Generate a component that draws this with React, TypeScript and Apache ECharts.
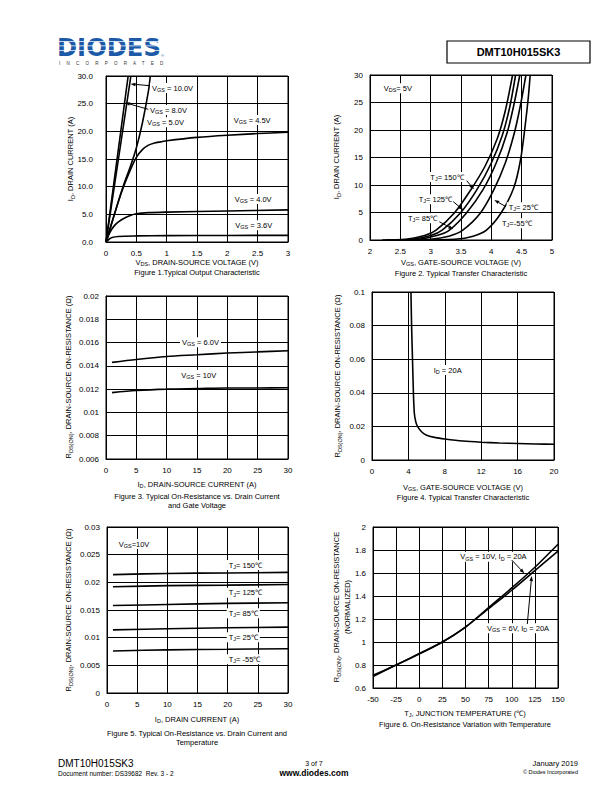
import React, { useEffect, useRef } from "react";
import * as echarts from "echarts";

const FONT = '"Liberation Sans", Arial, Helvetica, sans-serif';

// ---------- Figure 1: Typical Output Characteristic (VDS V, ID A)
const fig1Vgs10 = [[0, 0], [0.365, 30]];
const fig1Vgs8 = [[0, 0], [0.41, 30]];
const fig1Vgs5 = [[0, 0], [0.1, 3.6], [0.2, 7.2], [0.3, 10.6], [0.4, 13.6], [0.5, 17], [0.6, 21.5], [0.7, 27.3], [0.73, 30]];
const fig1Vgs45 = [[0, 0], [0.1, 3.6], [0.2, 7.2], [0.3, 10.3], [0.4, 13], [0.5, 15.3], [0.6, 16.7], [0.7, 17.5], [0.8, 17.9], [0.9, 18.1], [1.0, 18.3], [1.5, 18.9], [2, 19.3], [2.5, 19.6], [3, 19.85]];
const fig1Vgs40 = [[0, 0], [0.05, 1.4], [0.1, 2.4], [0.15, 3.1], [0.2, 3.6], [0.3, 4.3], [0.4, 4.8], [0.5, 5.1], [0.7, 5.3], [1, 5.4], [2, 5.6], [3, 5.8]];
const fig1Vgs36 = [[0, 0], [0.05, 0.5], [0.1, 0.8], [0.2, 1.0], [0.5, 1.1], [1, 1.15], [2, 1.18], [3, 1.2]];

// ---------- Figure 2: Typical Transfer Characteristic (VGS V, ID A)
const fig2Tj150 = [[2.2, 0], [2.6, 0.15], [2.9, 0.8], [3.09, 1.8], [3.39, 4.9], [3.66, 9.1], [3.9, 13.5], [4.1, 18.5], [4.23, 23.5], [4.35, 30]];
const fig2Tj125 = [[2.25, 0], [2.7, 0.15], [3.0, 0.8], [3.19, 1.8], [3.49, 4.9], [3.76, 9.1], [4.0, 14], [4.18, 19], [4.3, 24], [4.4, 30]];
const fig2Tj85 = [[2.3, 0], [2.8, 0.15], [3.1, 0.8], [3.31, 1.8], [3.59, 4.9], [3.86, 9.1], [4.08, 14], [4.26, 19.5], [4.37, 24.5], [4.47, 30]];
const fig2Tj25 = [[2.5, 0], [3.0, 0.15], [3.3, 0.7], [3.53, 1.8], [3.82, 4.9], [4.04, 9.1], [4.23, 14], [4.38, 19.5], [4.48, 24.5], [4.57, 30]];
const fig2TjM55 = [[2.8, 0], [3.4, 0.15], [3.7, 0.7], [3.92, 1.8], [4.16, 4.9], [4.37, 9.5], [4.48, 14.5], [4.56, 21], [4.61, 26], [4.64, 30]];

// ---------- Figure 3: RDS(ON) vs ID and VGS
const fig3Vgs6 = [[1, 0.0143], [5, 0.01455], [10, 0.0148], [15, 0.01495], [20, 0.0151], [25, 0.0152], [30, 0.0153]];
const fig3Vgs10 = [[1, 0.0117], [5, 0.01188], [10, 0.012], [15, 0.01205], [20, 0.0121], [25, 0.0121], [30, 0.01212]];

// ---------- Figure 4: RDS(ON) vs VGS at ID = 20A
const fig4Id20 = [[4.28, 0.1], [4.35, 0.08], [4.45, 0.06], [4.55, 0.04], [4.65, 0.028], [4.8, 0.023], [5, 0.02], [5.5, 0.0165], [6, 0.0148], [7, 0.0133], [8, 0.0125], [10, 0.0113], [12, 0.0106], [14, 0.0101], [16, 0.0098], [18, 0.0095], [20, 0.0094]];

// ---------- Figure 5: RDS(ON) vs ID and temperature
const fig5Tj150 = [[1, 0.0214], [10, 0.0216], [20, 0.0217], [30, 0.0218]];
const fig5Tj125 = [[1, 0.0192], [10, 0.0194], [20, 0.0195], [30, 0.0196]];
const fig5Tj85 = [[1, 0.0158], [10, 0.016], [20, 0.0162], [30, 0.0163]];
const fig5Tj25 = [[1, 0.0114], [10, 0.0116], [20, 0.0118], [30, 0.0119]];
const fig5TjM55 = [[1, 0.0076], [10, 0.0078], [20, 0.0079], [30, 0.008]];

// ---------- Figure 6: normalized RDS(ON) vs TJ
const fig6Vgs10 = [[-50, 0.70], [-25, 0.80], [0, 0.895], [25, 1.0], [50, 1.13], [75, 1.30], [100, 1.47], [125, 1.65], [150, 1.85]];
const fig6Vgs6 = [[-50, 0.71], [-25, 0.80], [0, 0.90], [25, 1.0], [50, 1.13], [75, 1.29], [100, 1.45], [125, 1.62], [150, 1.79]];

// ---------- texts
const titlePart = "DMT10H015SK3";
const captions = [
  "Figure 1.Typical Output Characteristic",
  "Figure 2. Typical Transfer Characteristic",
  "Figure 3. Typical On-Resistance vs. Drain Current\nand Gate Voltage",
  "Figure 4. Typical Transfer Characteristic",
  "Figure 5. Typical On-Resistance vs. Drain Current and\nTemperature",
  "Figure 6. On-Resistance Variation with Temperature",
];
const xNames = [
  "V{s|DS}, DRAIN-SOURCE VOLTAGE (V)",
  "V{s|GS}, GATE-SOURCE VOLTAGE (V)",
  "I{s|D}, DRAIN-SOURCE CURRENT (A)",
  "V{s|GS}, GATE-SOURCE VOLTAGE (V)",
  "I{s|D}, DRAIN CURRENT (A)",
  "T{s|J}, JUNCTION TEMPERATURE (℃)",
];
const yNames = [
  "I{s|D}, DRAIN CURRENT (A)",
  "I{s|D}, DRAIN CURRENT (A)",
  "R{s|DS(ON)}, DRAIN-SOURCE ON-RESISTANCE (Ω)",
  "R{s|DS(ON)}, DRAIN-SOURCE ON-RESISTANCE (Ω)",
  "R{s|DS(ON)}, DRAIN-SOURCE ON-RESISTANCE (Ω)",
  "R{s|DS(ON)}, DRAIN-SOURCE ON-RESISTANCE\n(NORMALIZED)",
];

// axis ranges [xMin, xMax, xInt, yMin, yMax, yInt]
const ranges = [
  [0, 3, 0.5, 0, 30, 5],
  [2, 5, 0.5, 0, 30, 5],
  [0, 30, 5, 0.006, 0.02, 0.002],
  [0, 20, 4, 0, 0.1, 0.02],
  [0, 30, 5, 0, 0.03, 0.005],
  [-50, 150, 25, 0.6, 2, 0.2],
];

// layout (page pixels)
const grids = [
  { left: 106, top: 76, width: 182, height: 166 },
  { left: 370, top: 75, width: 182, height: 165 },
  { left: 106, top: 296, width: 182, height: 163 },
  { left: 372, top: 292, width: 182, height: 168 },
  { left: 107, top: 527, width: 181, height: 166 },
  { left: 373, top: 527, width: 185, height: 161 },
];
const yLabelMargin = [13, 7, 7, 7, 7, 7];
const xNamePos = [[197, 262], [461, 262], [197, 484], [463, 487], [197, 719], [465, 713]];
const captionPos = [[197, 272], [461, 273], [197, 501], [463, 497], [197, 738], [465, 724]];
const yNamePos = [[70, 159], [336, 157], [68, 377], [337, 376], [68, 610], [342, 607]];

const SUB = { fontSize: 5.5, verticalAlign: "bottom", lineHeight: 10, fontFamily: FONT, fill: "#000" };

function fmt(v: number) {
  return String(parseFloat(v.toFixed(4)));
}
function fmt1(v: number) {
  return v.toFixed(1);
}

function txt(x: number, y: number, text: string, o: any = {}) {
  return {
    type: "text",
    x,
    y,
    z: 100,
    rotation: o.rotation || 0,
    scaleX: o.scaleX || 1,
    style: {
      text,
      fontSize: o.fontSize || 7.5,
      fontFamily: o.fontFamily || FONT,
      fontWeight: o.fontWeight || "normal",
      fill: o.fill || "#000",
      align: o.align || "left",
      verticalAlign: o.verticalAlign || "middle",
      lineHeight: o.lineHeight || 10,
      backgroundColor: o.bg,
      padding: o.bg ? [0, 2, 0, 2] : 0,
      rich: { s: SUB },
    },
  };
}

function arrow(x1: number, y1: number, x2: number, y2: number) {
  const a = Math.atan2(y2 - y1, x2 - x1);
  const L = 5;
  const W = 1.8;
  const bx = x2 - L * Math.cos(a);
  const by = y2 - L * Math.sin(a);
  return [
    { type: "line", z: 100, shape: { x1, y1, x2: bx, y2: by }, style: { stroke: "#000", lineWidth: 1 } },
    {
      type: "polygon",
      z: 100,
      shape: { points: [[x2, y2], [bx + W * Math.sin(a), by - W * Math.cos(a)], [bx - W * Math.sin(a), by + W * Math.cos(a)]] },
      style: { fill: "#000" },
    },
  ];
}

export default function App() {
  const ref = useRef<HTMLDivElement>(null);
  useEffect(() => {
    if (!ref.current) return;
    const chart = echarts.init(ref.current, null, { renderer: "svg" });

    const xAxis = ranges.map((r, i) => ({
      gridIndex: i,
      type: "value",
      min: r[0],
      max: r[1],
      interval: r[2],
      axisLine: { show: true, onZero: false, lineStyle: { color: "#000", width: 1 } },
      axisTick: { show: false },
      splitLine: { show: true, lineStyle: { color: "#000", width: 1 } },
      axisLabel: { color: "#000", fontSize: 8, fontFamily: FONT, margin: 7, formatter: fmt, showMinLabel: true, showMaxLabel: true },
    }));
    const yAxis = ranges.map((r, i) => ({
      gridIndex: i,
      type: "value",
      min: r[3],
      max: r[4],
      interval: r[5],
      axisLine: { show: true, onZero: false, lineStyle: { color: "#000", width: 1 } },
      axisTick: { show: false },
      splitLine: { show: true, lineStyle: { color: "#000", width: 1 } },
      axisLabel: {
        color: "#000",
        fontSize: 8,
        fontFamily: FONT,
        margin: yLabelMargin[i],
        formatter: i === 0 ? fmt1 : fmt,
        showMinLabel: true,
        showMaxLabel: true,
      },
    }));

    const mk = (data: number[][], i: number, smooth: number | boolean = 0.3) => ({
      type: "line",
      xAxisIndex: i,
      yAxisIndex: i,
      data,
      symbol: "none",
      showSymbol: false,
      smooth,
      lineStyle: { color: "#000", width: 1.6 },
      z: 5,
    });

    const series = [
      mk(fig1Vgs10, 0, false),
      mk(fig1Vgs8, 0, false),
      mk(fig1Vgs5, 0),
      mk(fig1Vgs45, 0),
      mk(fig1Vgs40, 0),
      mk(fig1Vgs36, 0),
      mk(fig2Tj150, 1),
      mk(fig2Tj125, 1),
      mk(fig2Tj85, 1),
      mk(fig2Tj25, 1),
      mk(fig2TjM55, 1),
      mk(fig3Vgs6, 2),
      mk(fig3Vgs10, 2),
      mk(fig4Id20, 3, 0.2),
      mk(fig5Tj150, 4),
      mk(fig5Tj125, 4),
      mk(fig5Tj85, 4),
      mk(fig5Tj25, 4),
      mk(fig5TjM55, 4),
      mk(fig6Vgs10, 5),
      mk(fig6Vgs6, 5),
    ];

    const g: any[] = [];
    // header logo
    g.push(txt(57, 47, "DIODES", { fontSize: 25, fontWeight: "bold", fill: "#1c5aa8", lineHeight: 20, scaleX: 0.97, fontFamily: '"DejaVu Sans", "Liberation Sans", sans-serif' }));
    [41, 45.5, 50].forEach((yy) =>
      g.push({ type: "rect", z: 101, shape: { x: 57, y: yy, width: 106, height: 0.7 }, style: { fill: "#fff" } })
    );
    g.push(txt(59, 63, "INCORPORATED".split("").join("     "), { fontSize: 4.5, fill: "#333", lineHeight: 5 }));
    g.push(txt(161, 55, "®", { fontSize: 4, fill: "#1c5aa8", lineHeight: 5 }));
    // title box
    g.push({ type: "rect", z: 100, shape: { x: 447, y: 41, width: 143, height: 22 }, style: { fill: "#fff", stroke: "#000", lineWidth: 1.2 } });
    g.push(txt(518.5, 52, titlePart, { fontSize: 11, fontWeight: "bold", align: "center" }));

    // axis names and captions
    for (let i = 0; i < 6; i++) {
      g.push(txt(xNamePos[i][0], xNamePos[i][1], xNames[i], { align: "center" }));
      g.push(txt(captionPos[i][0], captionPos[i][1], captions[i], { align: "center", lineHeight: 9.5 }));
      g.push(txt(yNamePos[i][0], yNamePos[i][1], yNames[i], { align: "center", rotation: Math.PI / 2, lineHeight: 11 }));
    }

    // Figure 1 labels
    g.push(txt(150, 88, "V{s|GS} = 10.0V", { bg: "#fff" }));
    g.push(...arrow(150, 85.7, 130.5, 84));
    g.push(txt(148, 110, "V{s|GS} = 8.0V", { bg: "#fff" }));
    g.push(...arrow(148.3, 109.3, 125, 102.7));
    g.push(txt(145, 122.3, "V{s|GS} = 5.0V", { bg: "#fff" }));
    g.push(txt(231.7, 120, "V{s|GS} = 4.5V", { bg: "#fff" }));
    g.push(txt(232.7, 199, "V{s|GS} = 4.0V", { bg: "#fff" }));
    g.push(txt(233.3, 225.3, "V{s|GS} = 3.6V", { bg: "#fff" }));

    // Figure 2 labels
    g.push(txt(381.7, 88.3, "V{s|DS}= 5V", { bg: "#fff" }));
    g.push(txt(428.3, 177, "T{s|J}= 150℃", { bg: "#fff" }));
    g.push(...arrow(466.7, 180.7, 474, 189.3));
    g.push(txt(416.7, 199.3, "T{s|J}= 125℃", { bg: "#fff" }));
    g.push(...arrow(453.3, 201.7, 463.3, 210));
    g.push(txt(406, 218.3, "T{s|J}= 85℃", { bg: "#fff" }));
    g.push(...arrow(439.3, 221.7, 453.3, 229.3));
    g.push(txt(506.7, 207.3, "T{s|J}= 25℃", { bg: "#fff" }));
    g.push(...arrow(506, 206.7, 494.3, 200));
    g.push(txt(500, 223.3, "T{s|J}=-55℃", { bg: "#fff" }));

    // Figure 3 labels
    g.push(txt(180, 342.3, "V{s|GS} = 6.0V", { bg: "#fff" }));
    g.push(txt(179.3, 375, "V{s|GS} = 10V", { bg: "#fff" }));

    // Figure 4 label
    g.push(txt(431.7, 370, "I{s|D} = 20A", { bg: "#fff" }));

    // Figure 5 labels
    g.push(txt(116.7, 544, "V{s|GS}=10V", { bg: "#fff" }));
    g.push(txt(226.7, 565, "T{s|J}= 150℃", { bg: "#fff" }));
    g.push(txt(226.7, 592.7, "T{s|J}= 125℃", { bg: "#fff" }));
    g.push(txt(226.7, 613.3, "T{s|J}= 85℃", { bg: "#fff" }));
    g.push(txt(226.7, 637.3, "T{s|J}= 25℃", { bg: "#fff" }));
    g.push(txt(226.7, 659.3, "T{s|J}= -55℃", { bg: "#fff" }));

    // Figure 6 labels
    g.push(txt(458.3, 556.7, "V{s|GS} = 10V, I{s|D} = 20A", { bg: "#fff" }));
    g.push(...arrow(511.7, 560, 524.3, 573.3));
    g.push(txt(485, 628.3, "V{s|GS} = 6V, I{s|D} = 20A", { bg: "#fff" }));
    g.push(...arrow(527.3, 624, 531.7, 576));

    // footer
    g.push(txt(58, 763, "DMT10H015SK3", { fontSize: 10 }));
    g.push(txt(58, 773, "Document number: DS39682  Rev. 3 - 2", { fontSize: 6.5 }));
    g.push(txt(314, 763, "3 of 7", { fontSize: 7, align: "center" }));
    g.push(txt(314, 773, "www.diodes.com", { fontSize: 8.5, fontWeight: "bold", align: "center" }));
    g.push(txt(578, 763, "January 2019", { fontSize: 7.5, align: "right" }));
    g.push(txt(578, 772, "© Diodes Incorporated", { fontSize: 5.5, align: "right" }));

    chart.setOption({
      animation: false,
      backgroundColor: "#fff",
      grid: grids.map((gr) => ({ ...gr, show: true, borderColor: "#000", borderWidth: 1, backgroundColor: "transparent" })),
      xAxis,
      yAxis,
      series,
      graphic: g,
    });
    return () => chart.dispose();
  }, []);
  return <div ref={ref} style={{ position: "absolute", left: 0, top: 0, width: 612, height: 792, background: "#fff" }} />;
}
